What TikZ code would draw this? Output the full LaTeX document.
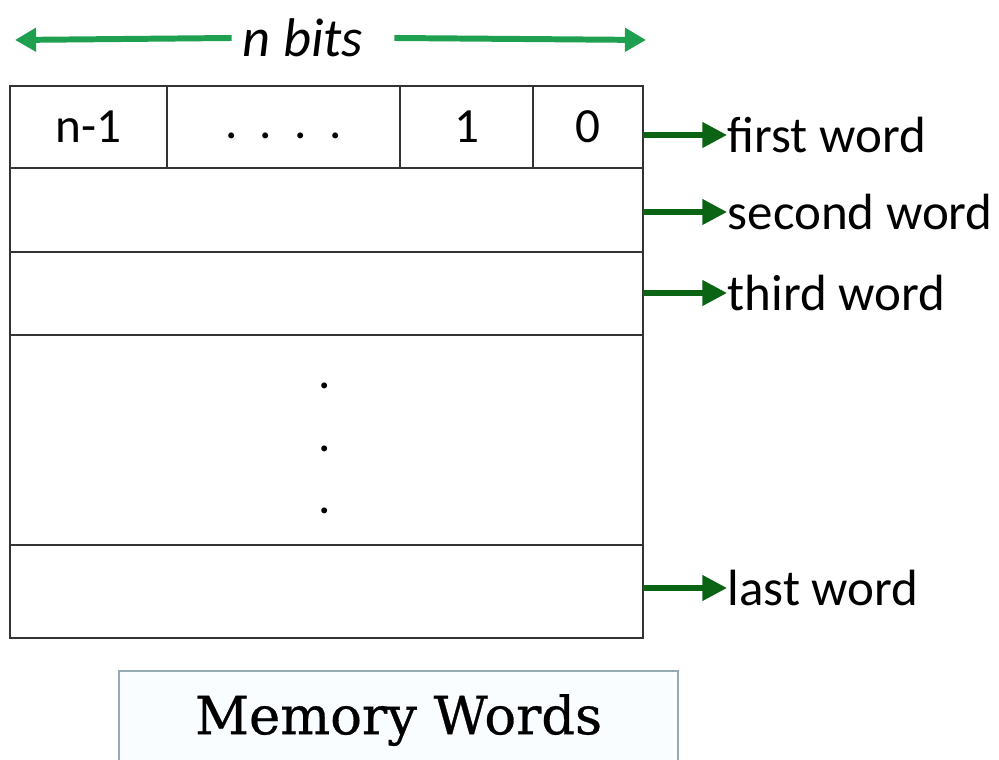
\documentclass[tikz,border=0pt]{standalone}
\usepackage{fontspec}
\setmainfont{Carlito}
\newfontfamily\slabfont[FakeBold=0.6]{DejaVu Serif}
\usepackage{tikz}
\usetikzlibrary{arrows.meta,positioning}
\definecolor{bitgreen}{RGB}{30,160,80}
\definecolor{wordgreen}{RGB}{10,100,20}
\definecolor{framegray}{RGB}{150,170,180}

\begin{document}
\begin{tikzpicture}[
cell/.style={draw=black!80, line width=0.6pt, minimum height=0.82cm, inner sep=0pt, outer sep=0pt, font=\fontsize{14}{17}\selectfont},
wordrow/.style={draw=black!80, line width=0.6pt, minimum width=6.33cm, inner sep=0pt, outer sep=0pt, anchor=north west},
wordlabel/.style={anchor=west, inner sep=0pt, font=\fontsize{14.5}{17}\selectfont},
wordarrow/.style={draw=wordgreen, line width=1.5pt, -{Triangle[length=7pt, width=7pt]}},
bitarrow/.style={draw=bitgreen, line width=1.7pt, -{Triangle[length=6pt, width=6.5pt]}},
vdot/.style={inner sep=0pt, font=\fontsize{14}{17}\selectfont}]
\useasboundingbox (0,0) rectangle (9.99,-7.60);
% n bits across the top
\node[font=\fontsize{15.5}{18}\selectfont\itshape, inner sep=3pt] (nbits) at (3.03,-0.38) {n bits};
\coordinate (lft) at (0.15,-0.40);
\coordinate (rgt) at (6.46,-0.40);
\draw[bitarrow] (nbits.west) -- (lft);
\draw[bitarrow] ([xshift=0.2cm]nbits.east) -- (rgt);
% first word, split into bits
\node[cell, minimum width=1.57cm, anchor=north west] (c1) at (0.10,-0.86) {n-1};
\node[cell, minimum width=2.33cm, right=0pt of c1] (c2) {\raisebox{-0.12cm}[0pt][0pt]{.\hspace{0.45em}.\hspace{0.45em}.\hspace{0.45em}.}};
\node[cell, minimum width=1.33cm, right=0pt of c2] (c3) {1};
\node[cell, minimum width=1.10cm, right=0pt of c3] (c4) {0};
% the other words
\node[wordrow, minimum height=0.84cm] (w2) at (c1.south west) {};
\node[wordrow, minimum height=0.83cm] (w3) at (w2.south west) {};
\node[wordrow, minimum height=2.10cm] (gap) at (w3.south west) {};
\node[wordrow, minimum height=0.93cm] (wl) at (gap.south west) {};
\node[vdot] (d1) at (3.25,-3.86) {.};
\node[vdot] (d2) at (3.25,-4.49) {.};
\node[vdot] (d3) at (3.25,-5.11) {.};
% labels on the right
\node[wordlabel] (l1) at (7.27,-1.35) {first word};
\node[wordlabel] (l2) at (7.27,-2.12) {second word};
\node[wordlabel] (l3) at (7.27,-2.93) {third word};
\node[wordlabel] (l4) at (7.27,-5.88) {last word};
\draw[wordarrow] (c4.east |- l1) -- (l1.west);
\draw[wordarrow] (w2.east |- l2) -- (l2.west);
\draw[wordarrow] (w3.east |- l3) -- (l3.west);
\draw[wordarrow] (wl.east |- l4) -- (l4.west);
% caption box
\node[draw=framegray, line width=0.6pt, fill=cyan!2, minimum width=5.59cm, minimum height=0.98cm, anchor=north west, font=\slabfont\fontsize{15}{18}\selectfont] (title) at (1.18,-6.70) {Memory Words};
\end{tikzpicture}
\end{document}
